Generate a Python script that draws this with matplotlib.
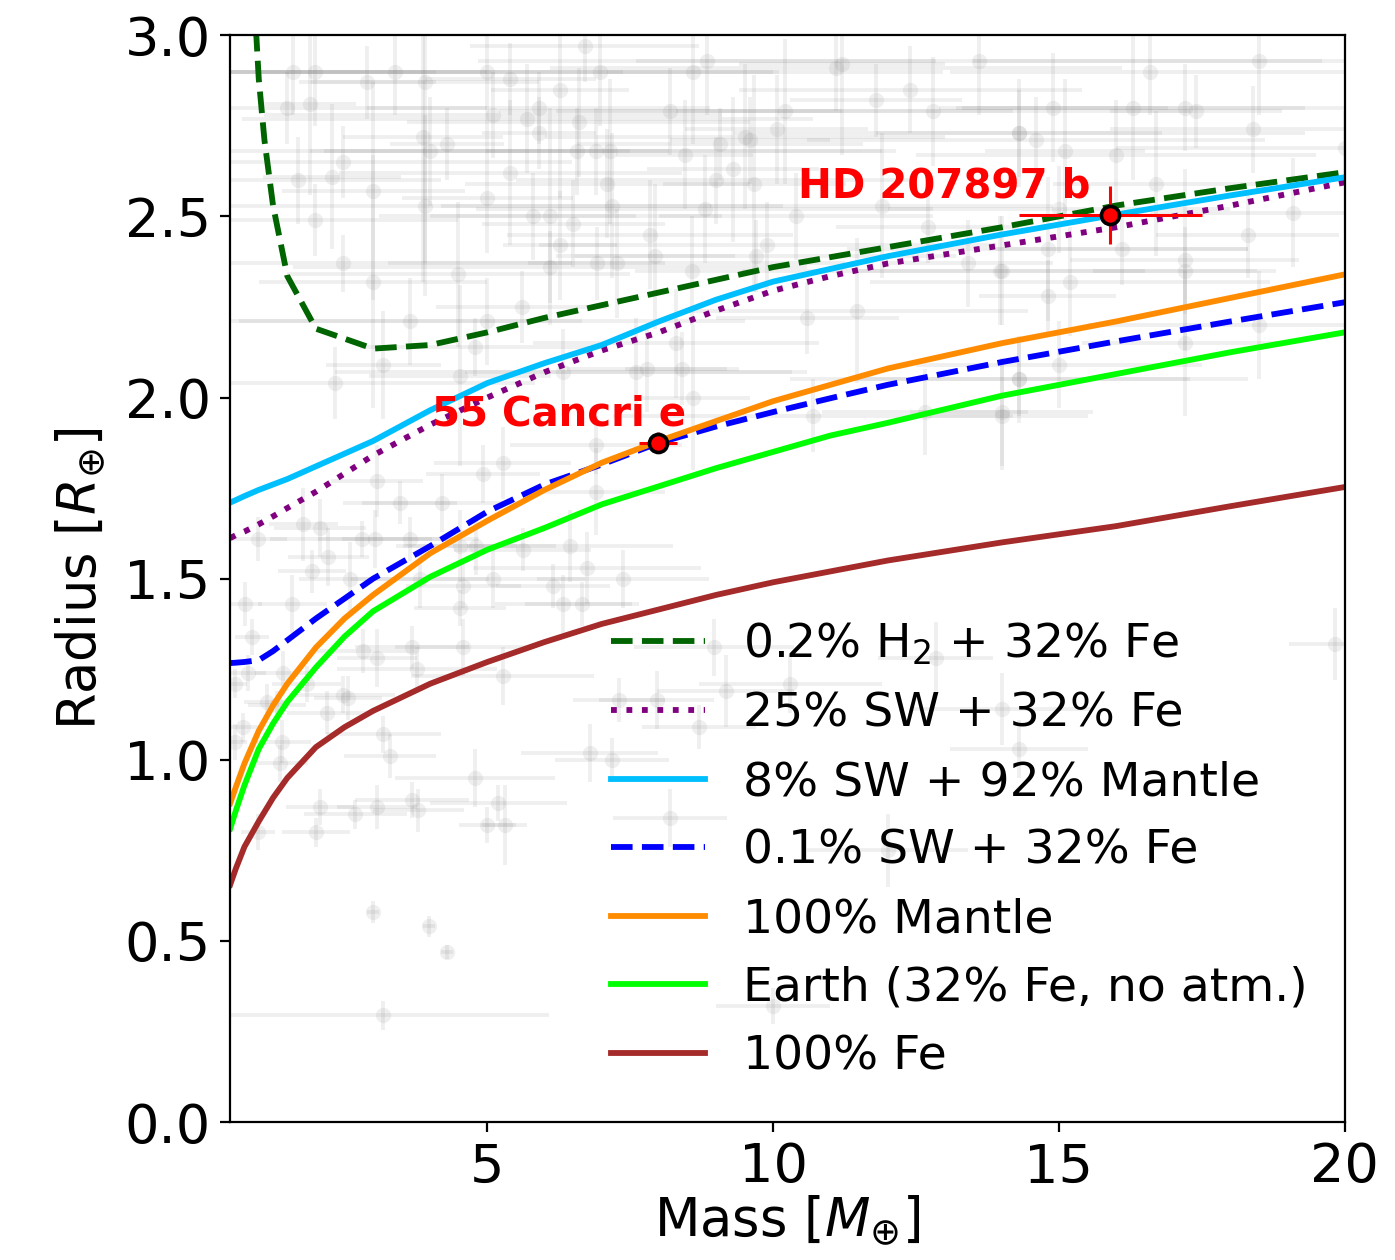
import numpy as np
import matplotlib.pyplot as plt

# background exoplanet sample: mass, radius, mass error, radius error
bg_mass = [
    1.6, 1.99, 2.9, 3.38, 3.91, 5.0, 5.4, 6.97, 6.7, 1.5, 1.9, 5.1, 6.27, 5.9, 5.7,
    3.87, 4.0, 4.29, 2.48, 2.28, 1.69, 3.0, 3.91, 5.0, 5.4, 1.99, 2.48, 3.0, 4.49,
    5.0, 5.6, 3.65, 3.18, 2.34, 4.52, 6.33, 4.78, 7.1, 7.14, 6.57, 6.1, 6.27, 6.1,
    6.5, 7.18, 6.91, 7.26, 5.8, 6.6, 5.9, 6.9,
    8.84, 8.6, 11.1, 11.2, 13.6, 12.4, 11.8, 12.8, 8.2, 10.2, 10.06, 9.5, 9.6, 9.07,
    8.45, 14.3, 9.3, 9.0, 9.67, 8.8, 10.4, 11.9, 12.7, 7.84, 9.9, 7.93, 8.58, 9.7,
    13.96, 13.4, 11.46, 10.6, 8.3, 7.8, 8.4, 7.6, 14.3, 14.0, 10.7, 12.65, 8.6,
    18.5, 16.6, 14.9, 16.3, 17.2, 17.4, 14.3, 14.6, 15.1, 16.0, 18.4, 20.0, 16.7,
    15.0, 19.1, 18.3, 14.8, 16.1, 14.0, 17.2, 17.2, 15.2, 14.8, 18.5, 17.2, 15.0,
    14.3, 14.0,
    5.27, 4.92, 3.07, 6.9, 6.9, 3.47, 4.2, 1.78, 2.07, 0.99, 2.8, 3.03, 3.65, 4.52,
    4.8, 5.62, 6.44, 2.22, 1.93, 2.6, 3.82, 4.58, 5.1, 6.74, 6.15, 7.37, 0.76, 1.59,
    4.52, 6.33, 6.66, 0.88, 2.83, 3.07, 3.68, 4.58, 0.82, 1.43, 0.59, 1.84, 3.77,
    5.27, 1.15, 1.32, 2.19, 2.48, 2.56, 0.73, 0.59, 1.41, 3.18, 3.3, 6.79, 7.18,
    1.37, 4.78, 2.07, 2.69, 3.07, 3.68, 3.79, 5.19, 0.99, 2.0, 5.0, 5.3, 3.0, 3.98,
    4.29, 3.17,
    19.83, 8.96, 12.84, 10.3, 9.17, 7.3, 7.96, 14.0, 14.3, 8.7, 8.2, 12.0, 10.0,
]
bg_radius = [
    2.90, 2.90, 2.87, 2.90, 2.87, 2.90, 2.88, 2.90, 2.97, 2.80, 2.81, 2.78, 2.85, 2.80, 2.77,
    2.72, 2.68, 2.70, 2.65, 2.61, 2.60, 2.57, 2.53, 2.55, 2.62, 2.49, 2.37, 2.32, 2.34,
    2.21, 2.25, 2.21, 2.09, 2.04, 2.06, 2.07, 2.14, 2.59, 2.68, 2.68, 2.50, 2.42, 2.36,
    2.48, 2.53, 2.37, 2.37, 2.50, 2.76, 2.73, 2.68,
    2.93, 2.90, 2.91, 2.92, 2.93, 2.85, 2.82, 2.79, 2.79, 2.79, 2.74, 2.72, 2.71, 2.70,
    2.67, 2.73, 2.63, 2.60, 2.59, 2.52, 2.50, 2.53, 2.47, 2.45, 2.42, 2.39, 2.35, 2.39,
    2.35, 2.37, 2.24, 2.22, 2.15, 2.08, 2.08, 2.07, 2.05, 1.95, 1.95, 1.96, 2.00,
    2.93, 2.90, 2.80, 2.80, 2.80, 2.79, 2.73, 2.71, 2.68, 2.67, 2.74, 2.69, 2.59,
    2.52, 2.51, 2.45, 2.41, 2.41, 2.35, 2.38, 2.35, 2.32, 2.28, 2.20, 2.15, 2.09,
    2.05, 1.96,
    1.82, 1.79, 1.77, 1.87, 1.74, 1.71, 1.71, 1.65, 1.64, 1.61, 1.61, 1.61, 1.61, 1.59,
    1.59, 1.58, 1.59, 1.56, 1.52, 1.50, 1.50, 1.48, 1.50, 1.53, 1.48, 1.50, 1.43, 1.43,
    1.42, 1.43, 1.43, 1.34, 1.30, 1.28, 1.31, 1.31, 1.24, 1.24, 1.21, 1.21, 1.25,
    1.23, 1.16, 1.15, 1.13, 1.18, 1.17, 1.09, 1.05, 1.05, 1.07, 1.01, 1.02, 1.00,
    0.99, 0.95, 0.87, 0.85, 0.87, 0.89, 0.86, 0.88, 0.80, 0.80, 0.82, 0.82, 0.58, 0.54,
    0.47, 0.295,
    1.32, 1.31, 1.28, 1.21, 1.19, 1.165, 1.165, 1.14, 1.03, 1.09, 0.84, 0.75, 0.32,
]
bg_mass_err = [
    2.5, 3.0, 1.2, 4.0, 2.0, 5.0, 1.5, 6.0, 2.0, 3.5, 0.8, 4.0, 1.2, 3.0, 5.0,
    1.4, 3.5, 1.0, 4.0, 1.2, 2.5, 1.6, 5.0, 1.5, 3.0, 2.5, 4.0, 2.0, 3.0,
    4.5, 1.5, 3.0, 1.0, 3.5, 1.6, 4.0, 2.0, 2.5, 5.0, 1.6, 3.0, 1.0, 4.5,
    1.6, 3.0, 1.2, 4.0, 1.8, 3.0, 1.0, 5.0,
    4.0, 1.5, 5.0, 1.8, 6.0, 3.0, 1.5, 4.5, 3.0, 4.0, 1.6, 3.5, 1.4, 2.5,
    1.2, 5.0, 1.5, 3.5, 1.6, 4.0, 2.4, 3.0, 1.6, 2.5, 4.0, 1.4, 1.0, 3.5,
    4.5, 1.5, 3.0, 1.6, 2.5, 1.4, 1.0, 3.0, 4.0, 1.5, 3.5, 1.8, 1.0,
    5.0, 3.5, 2.0, 3.0, 4.0, 1.5, 2.5, 4.0, 1.4, 3.5, 2.5, 4.0, 1.8,
    3.0, 2.5, 1.6, 3.5, 2.2, 2.5, 2.0, 1.6, 3.5, 1.2, 3.0, 1.8, 2.5,
    3.0, 1.6,
    1.2, 1.0, 0.8, 1.5, 1.2, 1.0, 1.4, 0.6, 0.8, 0.5, 1.6, 1.0, 1.2, 1.0,
    1.4, 1.2, 1.8, 0.7, 0.6, 0.9, 1.2, 1.0, 1.6, 2.0, 1.0, 1.5, 0.3, 0.6,
    0.8, 1.2, 1.0, 0.3, 0.9, 0.7, 1.0, 1.2, 0.3, 0.5, 0.2, 0.6, 1.4,
    1.6, 0.4, 0.5, 0.7, 0.9, 0.6, 0.3, 0.2, 0.5, 1.0, 0.8, 1.2, 1.0,
    0.5, 1.4, 0.6, 0.9, 0.7, 1.0, 0.8, 1.2, 0.3, 0.6, 0.5, 0.4, 0.1, 0.1,
    0.1, 2.9,
    0.8, 1.4, 1.0, 1.6, 1.2, 0.8, 1.0, 1.6, 1.2, 1.0, 1.0, 1.4, 1.0,
]
bg_radius_err = [
    0.12, 0.15, 0.10, 0.12, 0.50, 0.20, 0.10, 0.15, 0.10, 0.10, 0.25, 0.12, 0.30, 0.10, 0.15,
    0.40, 0.15, 0.10, 0.10, 0.20, 0.12, 0.30, 0.25, 0.15, 0.20, 0.10, 0.08, 0.35, 0.20,
    0.12, 0.10, 0.12, 0.15, 0.10, 0.25, 0.12, 0.08, 0.15, 0.20, 0.12, 0.30, 0.15, 0.10,
    0.12, 0.20, 0.10, 0.15, 0.12, 0.15, 0.10, 0.12,
    0.15, 0.20, 0.12, 0.25, 0.15, 0.12, 0.10, 0.15, 0.12, 0.20, 0.15, 0.20, 0.12, 0.10,
    0.15, 0.12, 0.20, 0.12, 0.30, 0.15, 0.12, 0.20, 0.10, 0.15, 0.12, 0.20, 0.15, 0.10,
    0.15, 0.12, 0.20, 0.10, 0.15, 0.12, 0.10, 0.15, 0.12, 0.15, 0.10, 0.12, 0.20,
    0.15, 0.12, 0.15, 0.20, 0.12, 0.10, 0.15, 0.12, 0.20, 0.15, 0.12, 0.10, 0.20,
    0.12, 0.15, 0.12, 0.20, 0.10, 0.15, 0.25, 0.12, 0.15, 0.10, 0.15, 0.20, 0.12,
    0.10, 0.15,
    0.10, 0.08, 0.10, 0.08, 0.12, 0.06, 0.08, 0.10, 0.08, 0.06, 0.05, 0.08, 0.06, 0.10,
    0.08, 0.06, 0.10, 0.08, 0.06, 0.10, 0.08, 0.06, 0.08, 0.10, 0.06, 0.08, 0.06, 0.08,
    0.05, 0.08, 0.06, 0.05, 0.06, 0.08, 0.06, 0.08, 0.05, 0.06, 0.04, 0.05, 0.06,
    0.08, 0.05, 0.04, 0.06, 0.05, 0.06, 0.04, 0.05, 0.06, 0.05, 0.06, 0.08, 0.06,
    0.05, 0.08, 0.05, 0.04, 0.06, 0.05, 0.06, 0.05, 0.05, 0.04, 0.05, 0.11, 0.03, 0.03,
    0.02, 0.04,
    0.10, 0.08, 0.10, 0.08, 0.10, 0.06, 0.08, 0.10, 0.08, 0.06, 0.08, 0.10, 0.05,
]

# interior structure models (mass in M_earth, radius in R_earth)
mass_h2 = [0.9, 0.95, 1.0, 1.1, 1.25, 1.5, 2.0, 3.0, 4.0, 5.0, 6.0, 8.0, 10.0, 12.0, 14.0, 16.0, 18.0, 20.0]
rad_h2 = [3.25, 3.02, 2.88, 2.71, 2.53, 2.335, 2.19, 2.135, 2.145, 2.18, 2.22, 2.29, 2.36, 2.415, 2.47, 2.53, 2.578, 2.622]

mass_grid = [0.5, 0.6, 0.75, 1.0, 1.25, 1.5, 2.0, 2.5, 3.0, 4.0, 5.0, 6.0, 7.0, 8.0, 9.0,
             10.0, 11.0, 12.0, 14.0, 16.0, 18.0, 20.0]
rad_sw25 = [1.612, 1.62, 1.63, 1.65, 1.672, 1.695, 1.74, 1.79, 1.84, 1.925, 2.0, 2.07, 2.13,
            2.18, 2.24, 2.295, 2.335, 2.37, 2.42, 2.47, 2.53, 2.594]
rad_sw8 = [1.71, 1.717, 1.728, 1.745, 1.76, 1.775, 1.81, 1.845, 1.88, 1.965, 2.04, 2.095,
           2.145, 2.21, 2.27, 2.32, 2.355, 2.39, 2.45, 2.505, 2.558, 2.608]
rad_sw01 = [1.267, 1.268, 1.27, 1.275, 1.30, 1.33, 1.39, 1.445, 1.50, 1.59, 1.685, 1.76,
            1.815, 1.875, 1.92, 1.96, 1.998, 2.035, 2.098, 2.155, 2.21, 2.263]
rad_mantle = [0.88, 0.925, 0.99, 1.08, 1.15, 1.21, 1.31, 1.39, 1.455, 1.57, 1.66, 1.745,
              1.82, 1.88, 1.935, 1.99, 2.035, 2.08, 2.15, 2.21, 2.275, 2.34]
rad_earth = [0.81, 0.86, 0.93, 1.03, 1.10, 1.16, 1.255, 1.34, 1.41, 1.505, 1.58, 1.64,
             1.705, 1.755, 1.805, 1.85, 1.895, 1.93, 2.005, 2.065, 2.125, 2.18]
rad_iron = [0.655, 0.70, 0.76, 0.83, 0.895, 0.95, 1.035, 1.09, 1.135, 1.21, 1.27, 1.325,
            1.375, 1.415, 1.455, 1.49, 1.52, 1.55, 1.60, 1.645, 1.70, 1.753]

# highlighted planets
planet_names = ["HD 207897 b", "55 Cancri e"]
planet_mass = [15.9, 7.99]
planet_mass_err = [1.6, 0.33]
planet_radius = [2.505, 1.875]
planet_radius_err = [0.08, 0.029]
label_pos = [(10.43, 2.553), (4.03, 1.924)]

fig, ax = plt.subplots(figsize=(6.975, 6.3), dpi=200)
fig.subplots_adjust(left=0.165, right=0.964, top=0.972, bottom=0.1095)

ax.errorbar(bg_mass, bg_radius, xerr=bg_mass_err, yerr=bg_radius_err, fmt="o",
            color="gray", ms=5.5, mew=0, elinewidth=1.4, capsize=0, alpha=0.12, zorder=1)

lw = 2.1
ax.plot(mass_h2, rad_h2, "--", color="darkgreen", lw=lw, label="0.2% H$_2$ + 32% Fe")
ax.plot(mass_grid, rad_sw25, ":", color="purple", lw=lw, label="25% SW + 32% Fe")
ax.plot(mass_grid, rad_sw8, "-", color="deepskyblue", lw=lw, label="8% SW + 92% Mantle")
ax.plot(mass_grid, rad_sw01, "--", color="blue", lw=lw, label="0.1% SW + 32% Fe")
ax.plot(mass_grid, rad_mantle, "-", color="darkorange", lw=lw, label="100% Mantle")
ax.plot(mass_grid, rad_earth, "-", color="lime", lw=lw, label="Earth (32% Fe, no atm.)")
ax.plot(mass_grid, rad_iron, "-", color="brown", lw=lw, label="100% Fe")

for name, m, dm, r, dr, (tx, ty) in zip(planet_names, planet_mass, planet_mass_err,
                                         planet_radius, planet_radius_err, label_pos):
    ax.errorbar(m, r, xerr=dm, yerr=dr, fmt="o", color="red", mec="black", mew=1.3,
                ms=6.5, elinewidth=1.1, capsize=0, zorder=5)
    ax.text(tx, ty, name, color="red", fontsize=14.5, fontweight="bold",
            ha="left", va="baseline", zorder=6)

ax.set_xlim(0.5, 20)
ax.set_ylim(0, 3)
ax.set_xticks([5, 10, 15, 20])
ax.set_yticks(np.arange(0, 3.01, 0.5))
ax.tick_params(labelsize=19.5)
ax.set_xlabel(r"Mass [$M_{\oplus}$]", fontsize=19, labelpad=0)
ax.set_ylabel(r"Radius [$R_{\oplus}$]", fontsize=19, labelpad=6)

ax.legend(loc="lower right", frameon=False, fontsize=17, bbox_to_anchor=(1.005, 0.0))

fig.savefig("out.png", dpi=200)
